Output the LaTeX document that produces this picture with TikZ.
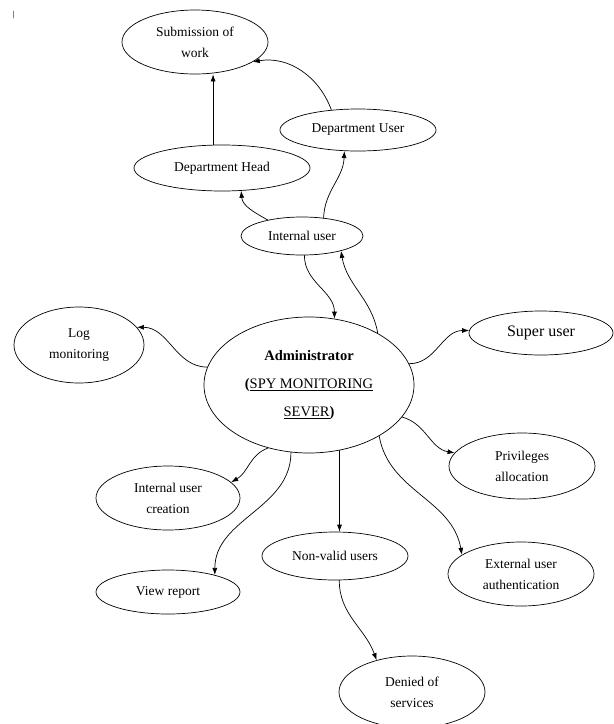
\documentclass[tikz,border=0pt]{standalone}
\usepackage{fontspec}
\setmainfont{Liberation Serif}
\usetikzlibrary{shapes.geometric,arrows.meta}
\begin{document}
\begin{tikzpicture}[x=1pt,y=-1pt,>={Latex[length=7pt,width=5pt]},line join=round,line cap=round,line width=.7pt,
	bubble/.style={draw,ellipse,inner sep=0pt,align=center,font=\fontsize{13.5}{21}\selectfont}]
	\useasboundingbox (0,0) rectangle (614,724);
	\draw[line width=.5pt,gray] (13,11) -- (13,18);
	\node[bubble,minimum width=146pt,minimum height=64pt] (sub) at (195,42) {Submission of\\work};
	\node[bubble,minimum width=156pt,minimum height=42pt] (deptuser) at (358,130) {Department User};
	\node[bubble,minimum width=176pt,minimum height=46pt] (depthead) at (222,168) {Department Head};
	\node[bubble,minimum width=122pt,minimum height=38pt] (intuser) at (302,236) {Internal user};
	\node[bubble,minimum width=210pt,minimum height=136pt,font=\fontsize{14.5}{28}\selectfont] (admin) at (309,385)
		{\textbf{Administrator}\\\textbf{(}\underline{SPY MONITORING}\\\underline{SEVER}\textbf{)}};
	\node[bubble,minimum width=130pt,minimum height=76pt] (logmon) at (79,345) {Log\\monitoring};
	\node[bubble,minimum width=144pt,minimum height=44pt,font=\fontsize{16}{20}\selectfont] (super) at (541,333) {Super user};
	\node[bubble,minimum width=146pt,minimum height=66pt] (priv) at (522,466) {Privileges\\allocation};
	\node[bubble,minimum width=144pt,minimum height=64pt] (creation) at (168,498) {Internal user\\creation};
	\node[bubble,minimum width=144pt,minimum height=44pt] (report) at (168,592) {View report};
	\node[bubble,minimum width=146pt,minimum height=48pt] (nonvalid) at (335,556) {Non-valid users};
	\node[bubble,minimum width=146pt,minimum height=64pt] (external) at (521,574) {External user\\authentication};
	\node[bubble,minimum width=146pt,minimum height=72pt] (denied) at (412,692) {Denied of\\services};
	\draw[->] (admin.170) to[out=180,in=0] (logmon.17);
	\draw[->] (admin.12) to[out=0,in=180] (super.178);
	\draw[->] (admin.-19) to[out=-15,in=170] (priv.169);
	\draw[->] (admin.-36) to[out=-80,in=100] (external.162);
	\draw[->] (admin.-65) -- (admin.-65 |- nonvalid.north);
	\draw[->] (admin.-105) to[out=-90,in=90] (report.20);
	\draw[->] (admin.-123) to[out=200,in=30] (creation.14);
	\draw[->] (intuser.-83) to[out=-90,in=90] (admin.69);
	\draw[->] (admin.37) to[out=100,in=-80] (intuser.-21);
	\draw[->] (intuser.155) to[out=150,in=-85] (depthead.-50);
	\draw[->] (intuser.40) to[out=88,in=-92] (deptuser.-123);
	\draw[->] (depthead.111) -- (depthead.111 |- sub.south);
	\draw[->] (deptuser.143) to[out=110,in=10] (sub.-19);
	\draw[->] (nonvalid.-80) to[out=-90,in=110] (denied.138);
\end{tikzpicture}
\end{document}
